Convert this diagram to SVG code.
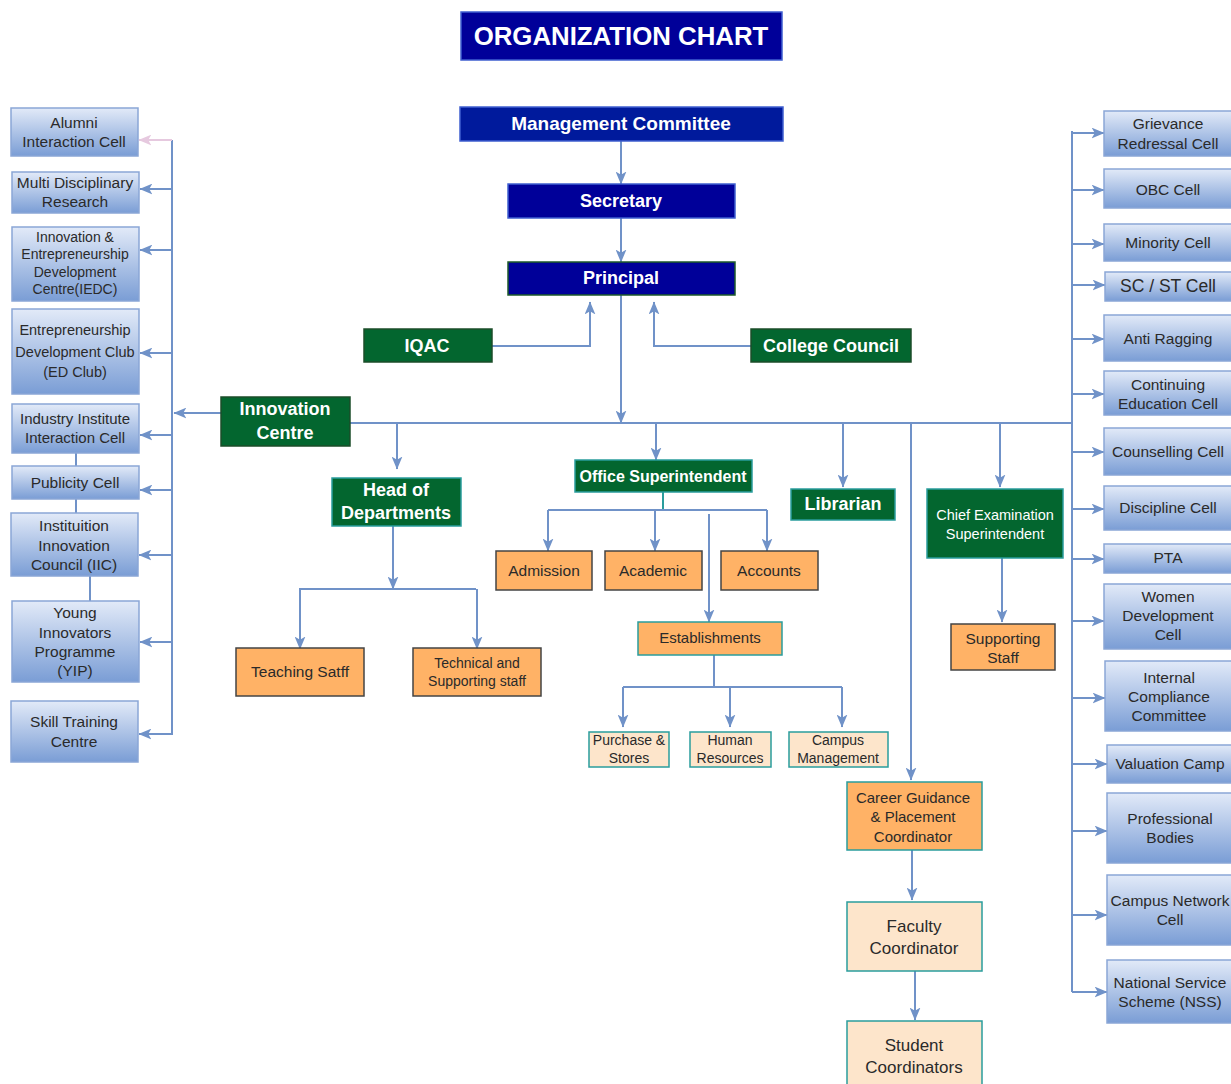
<svg xmlns="http://www.w3.org/2000/svg" width="1231" height="1084" viewBox="0 0 1231 1084">
<defs>
<linearGradient id="bg" x1="0" y1="0" x2="0" y2="1">
<stop offset="0" stop-color="#e2eaf8"/>
<stop offset="1" stop-color="#7a9dd5"/>
</linearGradient>
<marker id="ah" viewBox="0 0 12 10" refX="11.5" refY="5" markerWidth="13" markerHeight="11" orient="auto" markerUnits="userSpaceOnUse">
<path d="M0,0 L12,5 L0,10 L3,5 z" fill="#7092c8"/>
</marker>
<marker id="ahp" viewBox="0 0 12 10" refX="11.5" refY="5" markerWidth="13" markerHeight="11" orient="auto" markerUnits="userSpaceOnUse">
<path d="M0,0 L12,5 L0,10 L3,5 z" fill="#e6c9df"/>
</marker>
</defs>
<style>
text{font-family:"Liberation Sans",Arial,sans-serif;text-anchor:middle}
.navy{fill:#000099;stroke:#3f5fd0;stroke-width:1.5}
.green{fill:#03662f;stroke:#1d4d2a;stroke-width:1.5}
.gteal{fill:#03662f;stroke:#2a9d9d;stroke-width:1.5}
.orange{fill:#ffb266;stroke:#444;stroke-width:1.5}
.oteal{fill:#ffb266;stroke:#2a9d9d;stroke-width:1.5}
.peach{fill:#fde5cb;stroke:#2a9d9d;stroke-width:1.5}
.blue{fill:url(#bg);stroke:#8aa6d6;stroke-width:1.5}
.wt{fill:#fff;font-weight:bold}
.wn{fill:#fff}
.dt{fill:#2a2a2a}
.ln{fill:none;stroke:#7092c8;stroke-width:2}
.ar{fill:none;stroke:#7092c8;stroke-width:2;marker-end:url(#ah)}
</style>

<g id="connectors">
<path class="ar" d="M621,141 V184"/>
<path class="ar" d="M621,218 V262"/>
<path class="ar" d="M492,346 H590 V302"/>
<path class="ar" d="M751,346 H654 V302"/>
<path class="ar" d="M621,295 V423"/>
<path class="ln" d="M350,423 H1072"/>
<path class="ar" d="M221,413 H174"/>
<path class="ln" d="M172,140 V735"/>
<path fill="none" stroke="#e6c9df" stroke-width="2" marker-end="url(#ahp)" d="M172,140 H139"/>
<path class="ar" d="M172,189 H140"/>
<path class="ar" d="M172,250 H140"/>
<path class="ar" d="M172,353 H140"/>
<path class="ar" d="M172,435 H140"/>
<path class="ar" d="M172,490 H140"/>
<path class="ar" d="M172,555 H139"/>
<path class="ar" d="M172,642 H140"/>
<path class="ar" d="M172,734 H139"/>
<path class="ln" d="M76,453 V466 M76,499 V513 M90,576 V601"/>
<path class="ln" d="M1072,131 V992"/>
<path class="ar" d="M1072,133 H1104"/>
<path class="ar" d="M1072,190 H1104"/>
<path class="ar" d="M1072,244 H1104"/>
<path class="ar" d="M1072,285 H1105"/>
<path class="ar" d="M1072,339 H1104"/>
<path class="ar" d="M1072,394 H1104"/>
<path class="ar" d="M1072,452 H1104"/>
<path class="ar" d="M1072,509 H1104"/>
<path class="ar" d="M1072,559 H1104"/>
<path class="ar" d="M1072,621 H1104"/>
<path class="ar" d="M1072,698 H1105"/>
<path class="ar" d="M1072,764 H1107"/>
<path class="ar" d="M1072,831 H1107"/>
<path class="ar" d="M1072,915 H1107"/>
<path class="ar" d="M1072,992 H1107"/>
<path class="ar" d="M397,423 V469"/>
<path class="ar" d="M393,526 V589"/>
<path class="ln" d="M299,589 H476"/>
<path class="ar" d="M300,589 V649"/>
<path class="ar" d="M477,589 V649"/>
<path class="ar" d="M656,423 V460"/>
<path fill="none" stroke="#2a9d9d" stroke-width="2" d="M663,492 V510"/>
<path class="ln" d="M548,510 H767"/>
<path class="ar" d="M548,510 V551"/>
<path class="ar" d="M655,510 V551"/>
<path class="ar" d="M767,510 V551"/>
<path class="ar" d="M709,514 V622"/>
<path class="ln" d="M714,655 V687 M623,687 H842"/>
<path class="ar" d="M623,687 V727"/>
<path class="ar" d="M730,687 V727"/>
<path class="ar" d="M842,687 V727"/>
<path class="ar" d="M843,423 V487"/>
<path class="ar" d="M1000,423 V487"/>
<path class="ar" d="M1002,558 V622"/>
<path class="ar" d="M911,423 V780"/>
<path class="ar" d="M912,850 V900"/>
<path class="ar" d="M915,971 V1020"/>
</g>

<g id="title"><rect class="navy" x="461" y="12" width="321" height="48"/><text class="wt" x="621" y="45" font-size="25.8">ORGANIZATION CHART</text></g>
<g id="management"><rect x="460" y="107" width="323" height="34" fill="#001a9c" stroke="#3f5fd0" stroke-width="1.5"/><text class="wt" x="621" y="130" font-size="19">Management Committee</text></g>
<g id="secretary"><rect class="navy" x="508" y="184" width="227" height="34"/><text class="wt" x="621" y="207" font-size="18">Secretary</text></g>
<g id="principal"><rect x="508" y="262" width="227" height="33" fill="#000099" stroke="#1d5a2a" stroke-width="1.5"/><text class="wt" x="621" y="284" font-size="18">Principal</text></g>
<g id="iqac"><rect class="green" x="364" y="329" width="128" height="33"/><text class="wt" x="427" y="352" font-size="18">IQAC</text></g>
<g id="college-council"><rect class="green" x="751" y="329" width="160" height="33"/><text class="wt" x="831" y="352" font-size="18">College Council</text></g>
<g id="innovation-centre"><rect class="green" x="221" y="397" width="129" height="49"/><text class="wt" x="285" y="415" font-size="18">Innovation</text><text class="wt" x="285" y="439" font-size="18">Centre</text></g>
<g id="hod"><rect class="gteal" x="332" y="478" width="129" height="48"/><text class="wt" x="396" y="496" font-size="18">Head of</text><text class="wt" x="396" y="519" font-size="18">Departments</text></g>
<g id="office-superintendent"><rect class="gteal" x="575" y="460" width="177" height="32"/><text class="wt" x="663" y="482" font-size="16">Office Superintendent</text></g>
<g id="librarian"><rect class="gteal" x="791" y="489" width="104" height="31"/><text class="wt" x="843" y="510" font-size="18">Librarian</text></g>
<g id="chief-exam"><rect class="gteal" x="927" y="489" width="136" height="69"/><text class="wn" x="995" y="520" font-size="14.5">Chief Examination</text><text class="wn" x="995" y="539" font-size="14.5">Superintendent</text></g>
<g id="supporting-staff"><rect class="orange" x="951" y="624" width="104" height="46"/><text class="dt" x="1003" y="644" font-size="15.5">Supporting</text><text class="dt" x="1003" y="663" font-size="15.5">Staff</text></g>
<g id="teaching"><rect class="orange" x="236" y="648" width="128" height="48"/><text class="dt" x="300" y="677" font-size="15.5">Teaching Satff</text></g>
<g id="technical"><rect class="orange" x="413" y="648" width="128" height="48"/><text class="dt" x="477" y="668" font-size="14">Technical and</text><text class="dt" x="477" y="686" font-size="14">Supporting staff</text></g>
<g id="admission"><rect class="orange" x="496" y="551" width="96" height="39"/><text class="dt" x="544" y="576" font-size="15.5">Admission</text></g>
<g id="academic"><rect class="orange" x="605" y="551" width="97" height="39"/><text class="dt" x="653" y="576" font-size="15.5">Academic</text></g>
<g id="accounts"><rect class="orange" x="721" y="551" width="97" height="39"/><text class="dt" x="769" y="576" font-size="15.5">Accounts</text></g>
<g id="establishments"><rect class="oteal" x="638" y="622" width="144" height="33"/><text class="dt" x="710" y="643" font-size="15">Establishments</text></g>
<g id="purchase"><rect class="peach" x="589" y="732" width="80" height="35"/><text class="dt" x="629" y="745" font-size="14">Purchase &amp;</text><text class="dt" x="629" y="763" font-size="14">Stores</text></g>
<g id="hr"><rect class="peach" x="690" y="732" width="81" height="35"/><text class="dt" x="730" y="745" font-size="14">Human</text><text class="dt" x="730" y="763" font-size="14">Resources</text></g>
<g id="campus-mgmt"><rect class="peach" x="789" y="732" width="99" height="35"/><text class="dt" x="838" y="745" font-size="14">Campus</text><text class="dt" x="838" y="763" font-size="14">Management</text></g>
<g id="career"><rect class="oteal" x="847" y="782" width="135" height="68"/><text class="dt" x="913" y="803" font-size="15">Career Guidance</text><text class="dt" x="913" y="822" font-size="15">&amp; Placement</text><text class="dt" x="913" y="842" font-size="15">Coordinator</text></g>
<g id="faculty"><rect class="peach" x="847" y="902" width="135" height="69"/><text class="dt" x="914" y="932" font-size="17">Faculty</text><text class="dt" x="914" y="954" font-size="17">Coordinator</text></g>
<g id="student"><rect class="peach" x="847" y="1021" width="135" height="70"/><text class="dt" x="914" y="1051" font-size="17">Student</text><text class="dt" x="914" y="1073" font-size="17">Coordinators</text></g>

<g id="alumni"><rect class="blue" x="11" y="108" width="127" height="48"/><text class="dt" x="74" y="128" font-size="15.5">Alumni</text><text class="dt" x="74" y="147" font-size="15.5">Interaction Cell</text></g>
<g id="mdr"><rect class="blue" x="12" y="172" width="127" height="41"/><text class="dt" x="75" y="188" font-size="15.5">Multi Disciplinary</text><text class="dt" x="75" y="207" font-size="15.5">Research</text></g>
<g id="iedc"><rect class="blue" x="12" y="227" width="127" height="74"/><text class="dt" x="75" y="242" font-size="14">Innovation &amp;</text><text class="dt" x="75" y="259" font-size="14">Entrepreneurship</text><text class="dt" x="75" y="277" font-size="14">Development</text><text class="dt" x="75" y="294" font-size="14">Centre(IEDC)</text></g>
<g id="ed-club"><rect class="blue" x="12" y="309" width="127" height="85"/><text class="dt" x="75" y="335" font-size="14.5">Entrepreneurship</text><text class="dt" x="75" y="357" font-size="14.5">Development Club</text><text class="dt" x="75" y="377" font-size="14.5">(ED Club)</text></g>
<g id="iiic"><rect class="blue" x="12" y="404" width="127" height="49"/><text class="dt" x="75" y="424" font-size="15">Industry Institute</text><text class="dt" x="75" y="443" font-size="15">Interaction Cell</text></g>
<g id="publicity"><rect class="blue" x="12" y="466" width="127" height="33"/><text class="dt" x="75" y="488" font-size="15.5">Publicity Cell</text></g>
<g id="iic"><rect class="blue" x="11" y="513" width="127" height="63"/><text class="dt" x="74" y="531" font-size="15.5">Instituition</text><text class="dt" x="74" y="551" font-size="15.5">Innovation</text><text class="dt" x="74" y="570" font-size="15.5">Council (IIC)</text></g>
<g id="yip"><rect class="blue" x="12" y="601" width="127" height="81"/><text class="dt" x="75" y="618" font-size="15.5">Young</text><text class="dt" x="75" y="638" font-size="15.5">Innovators</text><text class="dt" x="75" y="657" font-size="15.5">Programme</text><text class="dt" x="75" y="676" font-size="15.5">(YIP)</text></g>
<g id="skill"><rect class="blue" x="11" y="701" width="127" height="61"/><text class="dt" x="74" y="727" font-size="15.5">Skill Training</text><text class="dt" x="74" y="747" font-size="15.5">Centre</text></g>

<g id="grievance"><rect class="blue" x="1104" y="111" width="130" height="45"/><text class="dt" x="1168" y="129" font-size="15.5">Grievance</text><text class="dt" x="1168" y="149" font-size="15.5">Redressal Cell</text></g>
<g id="obc"><rect class="blue" x="1104" y="169" width="130" height="39"/><text class="dt" x="1168" y="195" font-size="15.5">OBC Cell</text></g>
<g id="minority"><rect class="blue" x="1104" y="224" width="130" height="37"/><text class="dt" x="1168" y="248" font-size="15.5">Minority Cell</text></g>
<g id="scst"><rect class="blue" x="1105" y="272" width="130" height="29"/><text class="dt" x="1168" y="292" font-size="17.5">SC / ST Cell</text></g>
<g id="anti-ragging"><rect class="blue" x="1104" y="315" width="130" height="46"/><text class="dt" x="1168" y="344" font-size="15.5">Anti Ragging</text></g>
<g id="continuing"><rect class="blue" x="1104" y="371" width="130" height="44"/><text class="dt" x="1168" y="390" font-size="15.5">Continuing</text><text class="dt" x="1168" y="409" font-size="15.5">Education Cell</text></g>
<g id="counselling"><rect class="blue" x="1104" y="428" width="130" height="47"/><text class="dt" x="1168" y="457" font-size="15.5">Counselling Cell</text></g>
<g id="discipline"><rect class="blue" x="1104" y="486" width="130" height="44"/><text class="dt" x="1168" y="513" font-size="15.5">Discipline Cell</text></g>
<g id="pta"><rect class="blue" x="1104" y="544" width="130" height="29"/><text class="dt" x="1168" y="563" font-size="15.5">PTA</text></g>
<g id="women"><rect class="blue" x="1104" y="584" width="130" height="65"/><text class="dt" x="1168" y="602" font-size="15.5">Women</text><text class="dt" x="1168" y="621" font-size="15.5">Development</text><text class="dt" x="1168" y="640" font-size="15.5">Cell</text></g>
<g id="icc"><rect class="blue" x="1105" y="661" width="130" height="70"/><text class="dt" x="1169" y="683" font-size="15.5">Internal</text><text class="dt" x="1169" y="702" font-size="15.5">Compliance</text><text class="dt" x="1169" y="721" font-size="15.5">Committee</text></g>
<g id="valuation"><rect class="blue" x="1107" y="745" width="130" height="38"/><text class="dt" x="1170" y="769" font-size="15.5">Valuation Camp</text></g>
<g id="professional"><rect class="blue" x="1107" y="793" width="130" height="70"/><text class="dt" x="1170" y="824" font-size="15.5">Professional</text><text class="dt" x="1170" y="843" font-size="15.5">Bodies</text></g>
<g id="campus-network"><rect class="blue" x="1107" y="875" width="130" height="70"/><text class="dt" x="1170" y="906" font-size="15.5">Campus Network</text><text class="dt" x="1170" y="925" font-size="15.5">Cell</text></g>
<g id="nss"><rect class="blue" x="1107" y="960" width="130" height="63"/><text class="dt" x="1170" y="988" font-size="15.5">National Service</text><text class="dt" x="1170" y="1007" font-size="15.5">Scheme (NSS)</text></g>
</svg>
